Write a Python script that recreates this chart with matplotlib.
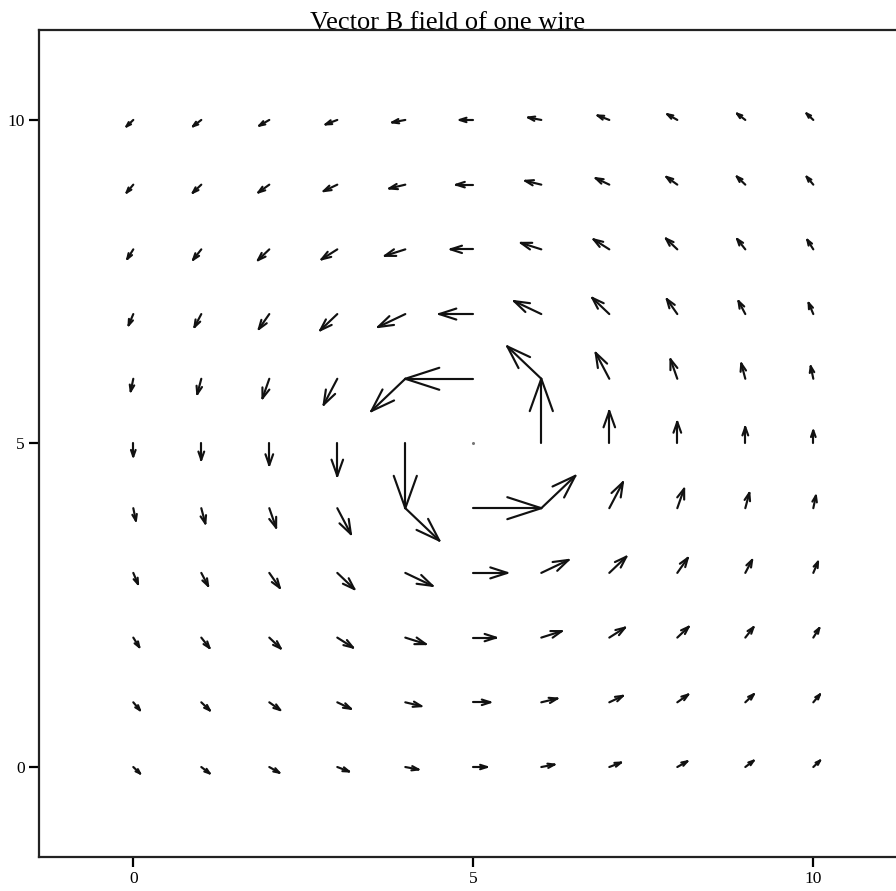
import numpy as np
import matplotlib
matplotlib.use("Agg")
import matplotlib.pyplot as plt
from matplotlib.collections import LineCollection

# Grid positions (tails of the arrows)
x_grid = [0, 1, 2, 3, 4, 5, 6, 7, 8, 9, 10]
y_grid = [0, 1, 2, 3, 4, 5, 6, 7, 8, 9, 10]

# Field components, rows = y (0..10), columns = x (0..10)
U = [
    [0.1, 0.122, 0.147, 0.172, 0.192, 0.2, 0.192, 0.172, 0.147, 0.122, 0.1],
    [0.098, 0.125, 0.16, 0.2, 0.235, 0.25, 0.235, 0.2, 0.16, 0.125, 0.098],
    [0.088, 0.12, 0.167, 0.231, 0.3, 0.333, 0.3, 0.231, 0.167, 0.12, 0.088],
    [0.069, 0.1, 0.154, 0.25, 0.4, 0.5, 0.4, 0.25, 0.154, 0.1, 0.069],
    [0.038, 0.059, 0.1, 0.2, 0.5, 1.0, 0.5, 0.2, 0.1, 0.059, 0.038],
    [0, 0, 0, 0, 0, 0, 0, 0, 0, 0, 0],
    [-0.038, -0.059, -0.1, -0.2, -0.5, -1.0, -0.5, -0.2, -0.1, -0.059, -0.038],
    [-0.069, -0.1, -0.154, -0.25, -0.4, -0.5, -0.4, -0.25, -0.154, -0.1, -0.069],
    [-0.088, -0.12, -0.167, -0.231, -0.3, -0.333, -0.3, -0.231, -0.167, -0.12, -0.088],
    [-0.098, -0.125, -0.16, -0.2, -0.235, -0.25, -0.235, -0.2, -0.16, -0.125, -0.098],
    [-0.1, -0.122, -0.147, -0.172, -0.192, -0.2, -0.192, -0.172, -0.147, -0.122, -0.1],
]
V = [
    [-0.1, -0.098, -0.088, -0.069, -0.038, 0, 0.038, 0.069, 0.088, 0.098, 0.1],
    [-0.122, -0.125, -0.12, -0.1, -0.059, 0, 0.059, 0.1, 0.12, 0.125, 0.122],
    [-0.147, -0.16, -0.167, -0.154, -0.1, 0, 0.1, 0.154, 0.167, 0.16, 0.147],
    [-0.172, -0.2, -0.231, -0.25, -0.2, 0, 0.2, 0.25, 0.231, 0.2, 0.172],
    [-0.192, -0.235, -0.3, -0.4, -0.5, 0, 0.5, 0.4, 0.3, 0.235, 0.192],
    [-0.2, -0.25, -0.333, -0.5, -1.0, 0, 1.0, 0.5, 0.333, 0.25, 0.2],
    [-0.192, -0.235, -0.3, -0.4, -0.5, 0, 0.5, 0.4, 0.3, 0.235, 0.192],
    [-0.172, -0.2, -0.231, -0.25, -0.2, 0, 0.2, 0.25, 0.231, 0.2, 0.172],
    [-0.147, -0.16, -0.167, -0.154, -0.1, 0, 0.1, 0.154, 0.167, 0.16, 0.147],
    [-0.122, -0.125, -0.12, -0.1, -0.059, 0, 0.059, 0.1, 0.12, 0.125, 0.122],
    [-0.1, -0.098, -0.088, -0.069, -0.038, 0, 0.038, 0.069, 0.088, 0.098, 0.1],
]

title = "Vector B field of one wire"
xticks = [0, 5, 10]
yticks = [0, 5, 10]

serif = ["Liberation Serif", "DejaVu Serif"]

fig = plt.figure(figsize=(8.96, 8.91), dpi=100)
ax = fig.add_axes([38.5 / 896, (891 - 856.7) / 891, (896 - 38.5) / 896 + 0.01, (856.7 - 30) / 891])
ax.set_xlim(-1.394, 11.216 + 0.01 * 896 / 68)
ax.set_ylim(-1.386, 11.39)

head_len = 0.5
head_w = 0.17
segs = []
dots_x, dots_y = [], []
for j, yv in enumerate(y_grid):
    for i, xv in enumerate(x_grid):
        u, v = U[j][i], V[j][i]
        L = np.hypot(u, v)
        if L == 0:
            dots_x.append(xv)
            dots_y.append(yv)
            continue
        tx, ty = xv + u, yv + v
        segs.append([(xv, yv), (tx, ty)])
        ux, uy = u / L, v / L
        px, py = -uy, ux
        bx, by = tx - ux * head_len * L, ty - uy * head_len * L
        segs.append([(tx, ty), (bx + px * head_w * L, by + py * head_w * L)])
        segs.append([(tx, ty), (bx - px * head_w * L, by - py * head_w * L)])

lc = LineCollection(segs, colors="#111111", linewidths=1.55, capstyle="round", joinstyle="round")
ax.add_collection(lc)
ax.plot(dots_x, dots_y, linestyle="none", marker="o", ms=1.2, color="#777777")

for s in ["left", "bottom", "top"]:
    ax.spines[s].set_linewidth(1.6)
    ax.spines[s].set_color("#222222")
ax.spines["right"].set_visible(False)
ax.set_xticks(xticks)
ax.set_yticks(yticks)
ax.set_xticklabels([str(t) for t in xticks], fontfamily=serif, fontsize=12.5)
ax.set_yticklabels([str(t) for t in yticks], fontfamily=serif, fontsize=12.5)
ax.tick_params(direction="out", length=7, width=1.6, pad=3)

fig.text(0.5, 1 - 29 / 891, title, ha="center", va="baseline", fontfamily=serif, fontsize=19)

fig.savefig("out.png", dpi=100)
